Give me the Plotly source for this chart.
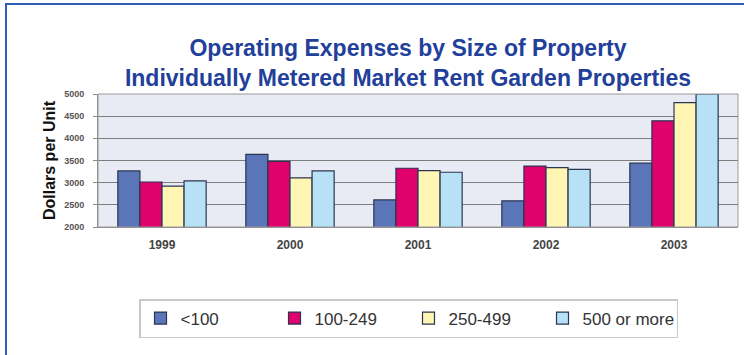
import plotly.graph_objects as go

# Operating expenses, dollars per unit, by property size
years = ["1999", "2000", "2001", "2002", "2003"]
size_lt100 = [3265, 3640, 2610, 2590, 3440]
size_100_249 = [3015, 3480, 3325, 3375, 4395]
size_250_499 = [2920, 3110, 3270, 3340, 4805]
size_500_plus = [3040, 3265, 3235, 3300, 5000]

series_names = ["<100", "100-249", "250-499", "500 or more"]
series_values = [size_lt100, size_100_249, size_250_499, size_500_plus]
series_colors = ["#5b75b9", "#e0006e", "#fff6b3", "#b6e1f6"]

y_ticks = [2000, 2500, 3000, 3500, 4000, 4500, 5000]

# pixel geometry of the plotting area
W, H = 744, 355
L, R, T, B = 98, 738, 94, 227
pw, ph = R - L, B - T


def px(x):
    return (x - L) / pw


def py(y):
    return (B - y) / ph


FONT = "Liberation Sans, Arial, sans-serif"

fig = go.Figure()
for name, vals, col in zip(series_names, series_values, series_colors):
    fig.add_trace(go.Bar(
        x=years, y=vals, name=name,
        marker=dict(color=col, line=dict(color="#2b3552", width=1.2)),
    ))

fig.update_layout(
    width=W, height=H,
    margin=dict(l=L, r=W - R, t=T, b=H - B),
    paper_bgcolor="white",
    plot_bgcolor="#e8ebf3",
    barmode="group",
    bargap=0.31,
    bargroupgap=0,
    font=dict(family=FONT, color="#333333"),
    title=dict(
        text="<b>Operating Expenses by Size of Property<br>Individually Metered Market Rent Garden Properties</b>",
        xref="container", x=408 / W, xanchor="center",
        yref="container", y=1 - 56 / H, yanchor="middle",
        font=dict(size=23, color="#22409a", family=FONT),
    ),
    xaxis=dict(
        showgrid=False,
        showline=True, linecolor="#8a8a8a", linewidth=1,
        ticks="", tickfont=dict(size=12, color="#444444", weight="bold"),
        ticklabelstandoff=7,
    ),
    yaxis=dict(
        range=[2000, 5000],
        tickvals=y_ticks,
        showgrid=True, gridcolor="#7d7d7d", gridwidth=1,
        showline=True, linecolor="#8a8a8a", linewidth=1,
        ticks="outside", ticklen=4, tickcolor="#8a8a8a",
        tickfont=dict(size=9, color="#555555", weight="bold"),
        ticklabelstandoff=7,
        title=dict(text="<b>Dollars per Unit</b>", font=dict(size=16, color="#111111"), standoff=4),
    ),
    showlegend=True,
    legend=dict(
        orientation="h",
        x=px(139), xanchor="left",
        y=py(299), yanchor="top",
        bgcolor="white",
        bordercolor="#c8c8c8", borderwidth=1.5,
        font=dict(size=17, color="#333333"),
        entrywidth=89,
        itemwidth=30,
        traceorder="normal",
    ),
    shapes=[
        # outer frame around the whole chart
        dict(type="rect", xref="paper", yref="paper",
             x0=px(6), x1=px(760), y0=py(370), y1=py(4),
             line=dict(color="#2f5db3", width=2), fillcolor="rgba(0,0,0,0)", layer="below"),
        # plot area outline
        dict(type="rect", xref="paper", yref="paper",
             x0=0, x1=1, y0=0, y1=1,
             line=dict(color="#9a9a9a", width=1), fillcolor="rgba(0,0,0,0)"),
    ],
)

fig.write_html("out.html")
